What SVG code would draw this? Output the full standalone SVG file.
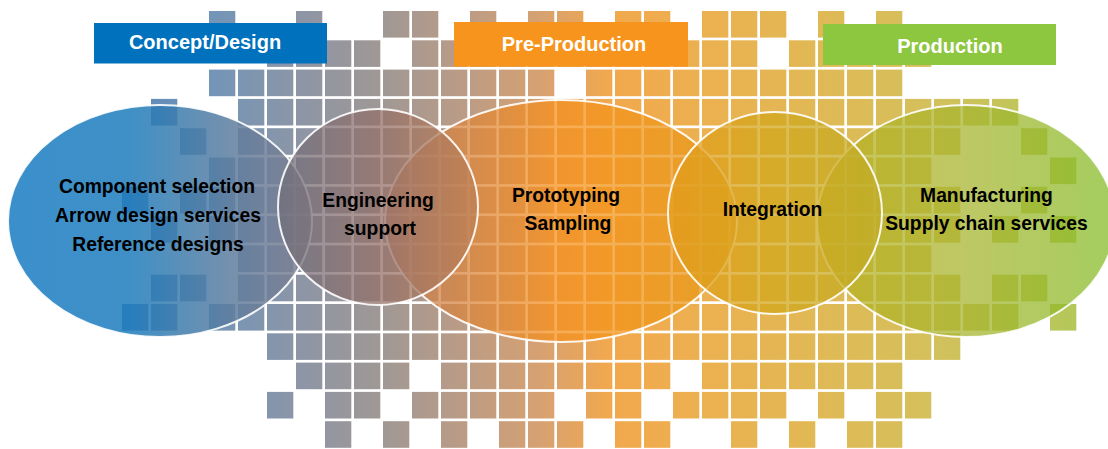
<svg xmlns="http://www.w3.org/2000/svg" width="1108" height="449" viewBox="0 0 1108 449">
<defs>
<linearGradient id="sqg" gradientUnits="userSpaceOnUse" x1="122" y1="0" x2="1077" y2="0">
<stop offset="0" stop-color="#5a88b8"/>
<stop offset="0.091" stop-color="#7295b8"/>
<stop offset="0.186" stop-color="#8d95a6"/>
<stop offset="0.273" stop-color="#a09895"/>
<stop offset="0.364" stop-color="#bd9c84"/>
<stop offset="0.437" stop-color="#d6a172"/>
<stop offset="0.511" stop-color="#f2a84d"/>
<stop offset="0.605" stop-color="#ecb050"/>
<stop offset="0.731" stop-color="#e0b955"/>
<stop offset="0.846" stop-color="#d4c05c"/>
<stop offset="1" stop-color="#b4c85a"/>
</linearGradient>
<linearGradient id="gL" gradientUnits="userSpaceOnUse" x1="8" y1="0" x2="312" y2="0">
<stop offset="0" stop-color="#187cc2"/>
<stop offset="0.4" stop-color="#1e7cbd"/>
<stop offset="0.55" stop-color="#3a7cae"/>
<stop offset="0.77" stop-color="#647d9b"/>
<stop offset="1" stop-color="#828091"/>
</linearGradient>
<linearGradient id="gE" gradientUnits="userSpaceOnUse" x1="278" y1="0" x2="478" y2="0">
<stop offset="0" stop-color="#6f6f7c"/>
<stop offset="0.5" stop-color="#93706a"/>
<stop offset="1" stop-color="#bf8053"/>
</linearGradient>
<linearGradient id="gP" gradientUnits="userSpaceOnUse" x1="385" y1="0" x2="737" y2="0">
<stop offset="0" stop-color="#c07b5b"/>
<stop offset="0.5" stop-color="#f7911b"/>
<stop offset="1" stop-color="#e49b1b"/>
</linearGradient>
<linearGradient id="gI" gradientUnits="userSpaceOnUse" x1="668" y1="0" x2="882" y2="0">
<stop offset="0" stop-color="#e49b1b"/>
<stop offset="0.5" stop-color="#d2a71b"/>
<stop offset="1" stop-color="#c1ac27"/>
</linearGradient>
<linearGradient id="gM" gradientUnits="userSpaceOnUse" x1="817" y1="0" x2="1110" y2="0">
<stop offset="0" stop-color="#bbb020"/>
<stop offset="0.5" stop-color="#a8b530"/>
<stop offset="1" stop-color="#87bc29"/>
</linearGradient>
<style>
.grid rect{width:26.3px;height:26.6px;fill:url(#sqg)}
.ell{stroke:#ffffff;stroke-width:2;stroke-opacity:0.9;fill-opacity:0.75}
.lbl{font-family:"Liberation Sans",Arial,Helvetica,sans-serif;font-weight:bold;font-size:19.3px;fill:#000000;text-anchor:middle}
.ttl{font-family:"Liberation Sans",Arial,Helvetica,sans-serif;font-weight:bold;font-size:20px;fill:#ffffff;text-anchor:middle}
</style>
</defs>
<rect width="1108" height="449" fill="#ffffff"/>
<g id="grid" class="grid">
<g transform="translate(0,11)"><rect x="209"/><rect x="296"/><rect x="383"/><rect x="412"/><rect x="470"/><rect x="528"/><rect x="557"/><rect x="615"/><rect x="644"/><rect x="702"/><rect x="731"/><rect x="760"/><rect x="818"/><rect x="876"/></g>
<g transform="translate(0,40.3)"><rect x="267"/><rect x="296"/><rect x="325"/><rect x="354"/><rect x="412"/><rect x="441"/><rect x="470"/><rect x="499"/><rect x="528"/><rect x="557"/><rect x="586"/><rect x="615"/><rect x="644"/><rect x="673"/><rect x="702"/><rect x="731"/><rect x="789"/><rect x="818"/><rect x="847"/><rect x="876"/><rect x="905"/></g>
<g transform="translate(0,69.6)"><rect x="209"/><rect x="238"/><rect x="267"/><rect x="296"/><rect x="325"/><rect x="354"/><rect x="383"/><rect x="412"/><rect x="441"/><rect x="470"/><rect x="499"/><rect x="528"/><rect x="586"/><rect x="615"/><rect x="644"/><rect x="673"/><rect x="702"/><rect x="731"/><rect x="760"/><rect x="789"/><rect x="818"/><rect x="847"/><rect x="876"/></g>
<g transform="translate(0,98.9)"><rect x="151"/><rect x="238"/><rect x="267"/><rect x="296"/><rect x="325"/><rect x="354"/><rect x="383"/><rect x="412"/><rect x="441"/><rect x="470"/><rect x="499"/><rect x="528"/><rect x="557"/><rect x="586"/><rect x="615"/><rect x="644"/><rect x="673"/><rect x="702"/><rect x="731"/><rect x="760"/><rect x="789"/><rect x="818"/><rect x="847"/><rect x="876"/><rect x="905"/><rect x="934"/><rect x="963"/><rect x="992"/></g>
<g transform="translate(0,128.2)"><rect x="180"/><rect x="238"/><rect x="267"/><rect x="296"/><rect x="325"/><rect x="354"/><rect x="383"/><rect x="412"/><rect x="441"/><rect x="470"/><rect x="499"/><rect x="528"/><rect x="557"/><rect x="586"/><rect x="615"/><rect x="644"/><rect x="673"/><rect x="702"/><rect x="731"/><rect x="760"/><rect x="789"/><rect x="818"/><rect x="847"/><rect x="876"/><rect x="905"/><rect x="934"/><rect x="1021"/></g>
<g transform="translate(0,157.5)"><rect x="209"/><rect x="238"/><rect x="267"/><rect x="296"/><rect x="325"/><rect x="354"/><rect x="383"/><rect x="412"/><rect x="441"/><rect x="470"/><rect x="499"/><rect x="528"/><rect x="557"/><rect x="586"/><rect x="615"/><rect x="644"/><rect x="673"/><rect x="702"/><rect x="731"/><rect x="760"/><rect x="789"/><rect x="818"/><rect x="847"/><rect x="876"/><rect x="905"/><rect x="1050"/></g>
<g transform="translate(0,186.8)"><rect x="122"/><rect x="180"/><rect x="209"/><rect x="238"/><rect x="267"/><rect x="296"/><rect x="325"/><rect x="354"/><rect x="383"/><rect x="412"/><rect x="441"/><rect x="470"/><rect x="499"/><rect x="528"/><rect x="557"/><rect x="586"/><rect x="615"/><rect x="644"/><rect x="673"/><rect x="702"/><rect x="731"/><rect x="760"/><rect x="789"/><rect x="818"/><rect x="847"/><rect x="876"/><rect x="905"/><rect x="934"/><rect x="1021"/></g>
<g transform="translate(0,216.1)"><rect x="151"/><rect x="209"/><rect x="238"/><rect x="267"/><rect x="296"/><rect x="325"/><rect x="354"/><rect x="383"/><rect x="412"/><rect x="441"/><rect x="470"/><rect x="499"/><rect x="528"/><rect x="557"/><rect x="586"/><rect x="615"/><rect x="644"/><rect x="673"/><rect x="702"/><rect x="731"/><rect x="760"/><rect x="789"/><rect x="818"/><rect x="847"/><rect x="876"/><rect x="905"/><rect x="934"/><rect x="992"/><rect x="1050"/></g>
<g transform="translate(0,245.4)"><rect x="238"/><rect x="267"/><rect x="296"/><rect x="325"/><rect x="354"/><rect x="383"/><rect x="412"/><rect x="441"/><rect x="470"/><rect x="499"/><rect x="528"/><rect x="557"/><rect x="586"/><rect x="615"/><rect x="644"/><rect x="673"/><rect x="702"/><rect x="731"/><rect x="760"/><rect x="789"/><rect x="818"/><rect x="847"/><rect x="876"/><rect x="905"/></g>
<g transform="translate(0,274.7)"><rect x="151"/><rect x="180"/><rect x="238"/><rect x="267"/><rect x="296"/><rect x="325"/><rect x="354"/><rect x="383"/><rect x="412"/><rect x="441"/><rect x="470"/><rect x="499"/><rect x="528"/><rect x="557"/><rect x="586"/><rect x="615"/><rect x="644"/><rect x="673"/><rect x="702"/><rect x="731"/><rect x="760"/><rect x="789"/><rect x="818"/><rect x="847"/><rect x="876"/><rect x="905"/><rect x="934"/><rect x="992"/><rect x="1021"/></g>
<g transform="translate(0,304)"><rect x="122"/><rect x="151"/><rect x="209"/><rect x="238"/><rect x="267"/><rect x="296"/><rect x="325"/><rect x="354"/><rect x="383"/><rect x="412"/><rect x="441"/><rect x="470"/><rect x="499"/><rect x="528"/><rect x="557"/><rect x="586"/><rect x="615"/><rect x="644"/><rect x="673"/><rect x="702"/><rect x="731"/><rect x="760"/><rect x="789"/><rect x="818"/><rect x="847"/><rect x="876"/><rect x="905"/><rect x="934"/><rect x="963"/><rect x="992"/><rect x="1050"/></g>
<g transform="translate(0,333.3)"><rect x="267"/><rect x="296"/><rect x="325"/><rect x="354"/><rect x="383"/><rect x="412"/><rect x="441"/><rect x="470"/><rect x="499"/><rect x="528"/><rect x="557"/><rect x="586"/><rect x="615"/><rect x="644"/><rect x="673"/><rect x="702"/><rect x="731"/><rect x="760"/><rect x="789"/><rect x="818"/><rect x="847"/><rect x="876"/><rect x="905"/><rect x="934"/></g>
<g transform="translate(0,362.6)"><rect x="296"/><rect x="325"/><rect x="354"/><rect x="383"/><rect x="441"/><rect x="470"/><rect x="499"/><rect x="528"/><rect x="557"/><rect x="586"/><rect x="615"/><rect x="644"/><rect x="702"/><rect x="731"/><rect x="760"/><rect x="789"/><rect x="818"/><rect x="847"/><rect x="876"/></g>
<g transform="translate(0,391.9)"><rect x="267"/><rect x="325"/><rect x="354"/><rect x="412"/><rect x="441"/><rect x="470"/><rect x="499"/><rect x="528"/><rect x="586"/><rect x="615"/><rect x="673"/><rect x="702"/><rect x="731"/><rect x="760"/><rect x="818"/><rect x="876"/><rect x="905"/></g>
<g transform="translate(0,421.2)"><rect x="325"/><rect x="383"/><rect x="441"/><rect x="499"/><rect x="528"/><rect x="557"/><rect x="615"/><rect x="644"/><rect x="731"/><rect x="789"/><rect x="847"/><rect x="876"/></g>
</g>
<g id="title-concept">
<rect x="94" y="23" width="233" height="40.5" fill="#0071bd"/>
<text class="ttl" x="205" y="49.3">Concept/Design</text>
</g>
<g id="title-preproduction">
<rect x="454" y="22" width="234" height="44.7" fill="#f7941d"/>
<text class="ttl" x="574" y="50.7">Pre-Production</text>
</g>
<g id="title-production">
<rect x="823" y="24" width="233" height="41" fill="#8dc63f"/>
<text class="ttl" x="950" y="52.5">Production</text>
</g>
<g id="node-concept">
<ellipse class="ell" cx="160" cy="221" rx="152" ry="116" fill="url(#gL)" style="fill-opacity:0.85"/>
<text class="lbl" x="157" y="193">Component selection</text>
<text class="lbl" x="158" y="221.7">Arrow design services</text>
<text class="lbl" x="158" y="250.5">Reference designs</text>
</g>
<g id="node-prototyping">
<ellipse class="ell" cx="561" cy="221" rx="176" ry="121" fill="url(#gP)"/>
<text class="lbl" x="566" y="201.5">Prototyping</text>
<text class="lbl" x="568" y="230">Sampling</text>
</g>
<g id="node-production">
<ellipse class="ell" cx="966" cy="221" rx="149" ry="116" fill="url(#gM)"/>
<text class="lbl" x="986.5" y="201.5">Manufacturing</text>
<text class="lbl" x="986.5" y="229.5">Supply chain services</text>
</g>
<g id="node-engineering">
<ellipse class="ell" cx="378" cy="207" rx="100" ry="98" fill="url(#gE)"/>
<text class="lbl" x="378" y="206.5">Engineering</text>
<text class="lbl" x="380" y="234.5">support</text>
</g>
<g id="node-integration">
<ellipse class="ell" cx="775" cy="213" rx="107" ry="101" fill="url(#gI)"/>
<text class="lbl" x="772.5" y="216">Integration</text>
</g>
<g id="connectors"/>
</svg>
